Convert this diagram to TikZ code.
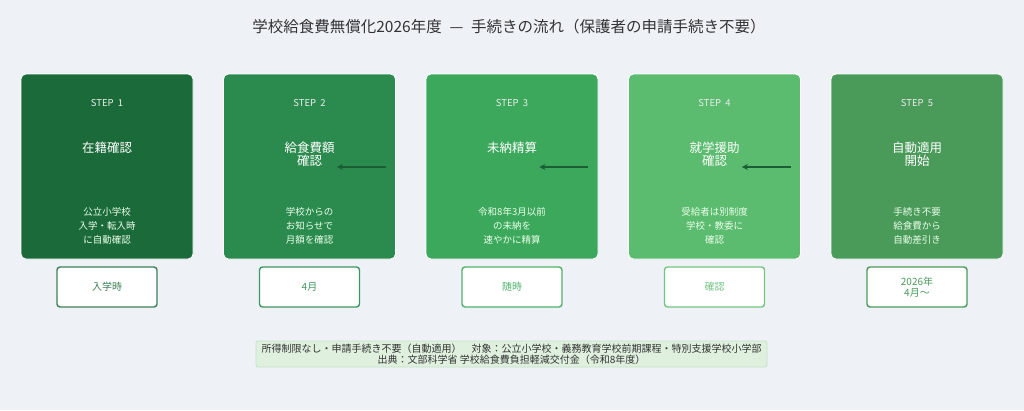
\documentclass[tikz,border=0pt]{standalone}
\usepackage{fontspec}
\setmainfont{Noto Sans CJK JP}
\usetikzlibrary{arrows.meta}
\definecolor{bgc}{HTML}{EEF2F7}
\definecolor{cA}{HTML}{1B6B3A}
\definecolor{cB}{HTML}{2B8A4E}
\definecolor{cC}{HTML}{3BA85C}
\definecolor{cD}{HTML}{5BBB6E}
\definecolor{cE}{HTML}{4A9A5A}
\definecolor{arr}{HTML}{1B5E35}
\definecolor{titlec}{HTML}{333333}
\definecolor{footfill}{HTML}{DFF0DF}
\definecolor{footline}{HTML}{C2E2C6}
\tikzset{
  stepcard/.style={draw=white, line width=0.8pt, rounded corners=5pt, minimum width=172pt, minimum height=185pt, inner sep=0pt},
  steplbl/.style={text=white!85!gray, font=\fontsize{9.5}{11}\selectfont},
  stepname/.style={text=white, align=center, font=\fontsize{12.5}{13}\selectfont},
  stepdesc/.style={text=white!92!green, align=center, font=\fontsize{9.5}{14}\selectfont},
  timebox/.style={draw=#1, fill=white, line width=1.4pt, rounded corners=3pt, minimum width=100pt, minimum height=40pt, inner sep=0pt, text=#1, align=center, font=\fontsize{10}{10.5}\selectfont},
  flowarrow/.style={draw=arr, line width=1.8pt, -{Stealth[length=6pt,width=6pt]}}
}
\begin{document}
\begin{tikzpicture}[x=1pt,y=-1pt]
\fill[bgc] (0,0) rectangle (1024,410);
\useasboundingbox (0,0) rectangle (1024,410);
\node[text=titlec, font=\fontsize{15.5}{16}\selectfont] (title) at (509,27) {学校給食費無償化2026年度\enspace—\enspace 手続きの流れ（保護者の申請手続き不要）};

\foreach \i/\cx/\col in {1/107/cA, 2/309.5/cB, 3/512/cC, 4/714.5/cD, 5/917/cE} {
  \node[stepcard, fill=\col] (s\i) at (\cx,166.5) {};
  \node[steplbl] (l\i) at (\cx,103) {STEP\ \ \i};
}
\node[stepname] (n1) at (107,148) {在籍確認};
\node[stepname] (n2) at (309.5,154.5) {給食費額\\確認};
\node[stepname] (n3) at (512,148) {未納精算};
\node[stepname] (n4) at (714.5,154.5) {就学援助\\確認};
\node[stepname] (n5) at (917,154.5) {自動適用\\開始};

\node[stepdesc] (d1) at (107,226) {公立小学校\\入学・転入時\\に自動確認};
\node[stepdesc] (d2) at (309.5,226) {学校からの\\お知らせで\\月額を確認};
\node[stepdesc] (d3) at (512,226) {令和8年3月以前\\の未納を\\速やかに精算};
\node[stepdesc] (d4) at (714.5,226) {受給者は別制度\\学校・教委に\\確認};
\node[stepdesc] (d5) at (917,226) {手続き不要\\給食費から\\自動差引き};

\node[timebox=cA!85!white] (t1) at (107,287) {入学時};
\node[timebox=cB!90!white] (t2) at (309.5,287) {4月};
\node[timebox=cC!90!white] (t3) at (512,287) {随時};
\node[timebox=cD!85!white] (t4) at (714.5,287) {確認};
\node[timebox=cE] (t5) at (917,287) {2026年\\4月〜};

\foreach \i/\j in {2/3,3/4,4/5} {
  \coordinate (a\i) at ([xshift=-10pt]s\i.east |- 0,167);
  \coordinate (b\i) at ([xshift=-59pt]s\i.east |- 0,167);
  \draw[flowarrow] (a\i) -- (b\i);
}

\node[draw=footline, fill=footfill, line width=0.8pt, rounded corners=2pt, minimum width=511pt, minimum height=26pt, inner sep=0pt, align=center, text=titlec, font=\fontsize{10}{10.5}\selectfont] (foot) at (511.5,354) {所得制限なし・申請手続き不要（自動適用）\quad 対象：公立小学校・義務教育学校前期課程・特別支援学校小学部\\出典：文部科学省 学校給食費負担軽減交付金（令和8年度）};
\end{tikzpicture}
\end{document}
